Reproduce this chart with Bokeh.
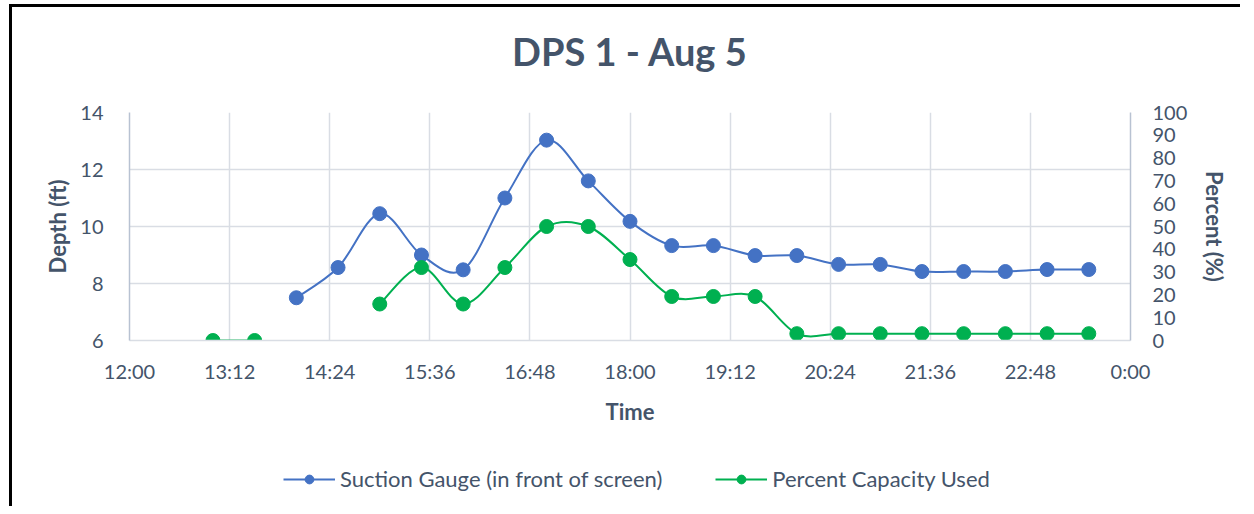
from bokeh.plotting import figure
from bokeh.layouts import column
from bokeh.models import (Range1d, LinearAxis, FixedTicker, Legend, LegendItem,
                          ColumnDataSource, Label)
from bokeh.embed import file_html
from bokeh.resources import INLINE

# ---------------- data ----------------
title_text = "DPS 1 - Aug 5"

blue_times = ["14:00", "14:30", "15:00", "15:30", "16:00", "16:30", "17:00", "17:30",
              "18:00", "18:30", "19:00", "19:30", "20:00", "20:30", "21:00", "21:30",
              "22:00", "22:30", "23:00", "23:30"]
blue_depth = [7.5, 8.56, 10.45, 9.0, 8.48, 11.0, 13.03, 11.6,
              10.18, 9.33, 9.33, 8.98, 8.98, 8.67, 8.67, 8.42,
              8.42, 8.42, 8.49, 8.49]

green_times = ["13:00", "13:30", "15:00", "15:30", "16:00", "16:30", "17:00", "17:30",
               "18:00", "18:30", "19:00", "19:30", "20:00", "20:30", "21:00", "21:30",
               "22:00", "22:30", "23:00", "23:30"]
green_pct = [0, 0, 16, 32, 16, 32, 50, 50,
             35.5, 19.3, 19.3, 19.3, 3, 3, 3, 3,
             3, 3, 3, 3]

x_tick_labels = ["12:00", "13:12", "14:24", "15:36", "16:48", "18:00",
                 "19:12", "20:24", "21:36", "22:48", "0:00"]
depth_ticks = [6, 8, 10, 12, 14]
pct_ticks = [0, 10, 20, 30, 40, 50, 60, 70, 80, 90, 100]

blue_name = "Suction Gauge (in front of screen)"
green_name = "Percent Capacity Used"

# ---------------- helpers ----------------
def to_hours(s):
    h, m = s.split(":")
    return int(h) + int(m) / 60.0

tick_pos = []
for lab in x_tick_labels:
    v = to_hours(lab)
    if tick_pos and v < tick_pos[-1]:
        v += 24
    tick_pos.append(v)

bx = [to_hours(t) for t in blue_times]
gx = [to_hours(t) for t in green_times]


def segments(xs, ys, max_gap=0.5 + 1e-6):
    segs, cur = [], [(xs[0], ys[0])]
    for i in range(1, len(xs)):
        if xs[i] - xs[i - 1] > max_gap:
            segs.append(cur)
            cur = []
        cur.append((xs[i], ys[i]))
    segs.append(cur)
    return segs


def bezier_source(xs, ys):
    d = dict(x0=[], y0=[], x1=[], y1=[], cx0=[], cy0=[], cx1=[], cy1=[])
    for seg in segments(xs, ys):
        n = len(seg)
        for i in range(n - 1):
            p0 = seg[i - 1] if i > 0 else seg[i]
            p1 = seg[i]
            p2 = seg[i + 1]
            p3 = seg[i + 2] if i + 2 < n else seg[i + 1]
            d["x0"].append(p1[0]); d["y0"].append(p1[1])
            d["x1"].append(p2[0]); d["y1"].append(p2[1])
            d["cx0"].append(p1[0] + (p2[0] - p0[0]) / 6.0)
            d["cy0"].append(p1[1] + (p2[1] - p0[1]) / 6.0)
            d["cx1"].append(p2[0] - (p3[0] - p1[0]) / 6.0)
            d["cy1"].append(p2[1] - (p3[1] - p1[1]) / 6.0)
    return ColumnDataSource(d)

# ---------------- styling ----------------
FONT = "Lato"
TXT = "#44546A"
GRID = "#D9DDE4"
AXL = "#B8C2D2"
BLUE = "#4472C4"
GREEN = "#00B050"


def strip(h, top, bottom):
    f = figure(frame_width=1001, frame_height=h, output_backend="svg",
               toolbar_location=None, x_range=Range1d(0, 1), y_range=Range1d(0, 1),
               x_axis_type=None, y_axis_type=None,
               min_border_left=117, min_border_right=110, min_border_top=top,
               min_border_bottom=bottom, outline_line_color=None,
               background_fill_color="white", border_fill_color="white")
    f.xgrid.visible = False
    f.ygrid.visible = False
    return f

# ---------------- title strip ----------------
tq = strip(93, 0, 0)
tq.add_layout(Label(x=0.5, y=0.53, text=title_text, text_align="center",
                    text_baseline="middle", text_font=FONT, text_font_size="38px",
                    text_font_style="bold", text_color=TXT))

# ---------------- main chart ----------------
p = figure(frame_width=1001, frame_height=228, output_backend="svg", toolbar_location=None,
           x_range=Range1d(tick_pos[0], tick_pos[-1]),
           y_range=Range1d(depth_ticks[0], depth_ticks[-1]),
           min_border_left=117, min_border_right=110, min_border_top=12,
           min_border_bottom=100, outline_line_color=None,
           background_fill_color="white", border_fill_color="white")

p.extra_y_ranges = {"pct": Range1d(pct_ticks[0], pct_ticks[-1])}

# x axis
xa = p.xaxis[0]
xa.ticker = FixedTicker(ticks=tick_pos)
xa.major_label_overrides = {tp: lab for tp, lab in zip(tick_pos, x_tick_labels)}
xa.axis_label = "Time"

# left axis
ya = p.yaxis[0]
ya.ticker = FixedTicker(ticks=depth_ticks)
ya.axis_label = "Depth (ft)"

# right axis
ra = LinearAxis(y_range_name="pct", ticker=FixedTicker(ticks=pct_ticks),
                axis_label="Percent (%)")
p.add_layout(ra, "right")

for ax in [xa, ya, ra]:
    ax.major_tick_line_color = None
    ax.minor_tick_line_color = None
    ax.axis_line_color = AXL
    ax.axis_line_width = 1.5
    ax.major_label_text_font = FONT
    ax.major_label_text_font_size = "20px"
    ax.major_label_text_color = TXT
    ax.axis_label_text_font = FONT
    ax.axis_label_text_font_size = "22px"
    ax.axis_label_text_font_style = "bold"
    ax.axis_label_text_color = TXT

xa.major_label_standoff = 12
xa.axis_label_standoff = 12
ya.major_label_standoff = 20
ya.axis_label_standoff = 6
ra.major_label_standoff = 16
ra.axis_label_standoff = 11
xa.axis_line_color = GRID
xa.axis_line_width = 1.5

p.xgrid.ticker = FixedTicker(ticks=tick_pos)
p.ygrid.ticker = FixedTicker(ticks=depth_ticks)
p.xgrid.grid_line_color = GRID
p.ygrid.grid_line_color = GRID
p.xgrid.grid_line_width = 1.5
p.ygrid.grid_line_width = 1.5

# ---------------- series ----------------
p.bezier(x0="x0", y0="y0", x1="x1", y1="y1", cx0="cx0", cy0="cy0", cx1="cx1", cy1="cy1",
         source=bezier_source(bx, blue_depth), line_color=BLUE, line_width=2)
p.bezier(x0="x0", y0="y0", x1="x1", y1="y1", cx0="cx0", cy0="cy0", cx1="cx1", cy1="cy1",
         source=bezier_source(gx, green_pct), line_color=GREEN, line_width=2,
         y_range_name="pct")

p.scatter(bx, blue_depth, size=14, fill_color=BLUE, line_color=BLUE)
p.scatter(gx, green_pct, size=14, fill_color=GREEN, line_color=GREEN,
          y_range_name="pct")

# ---------------- legend strip ----------------
q = strip(40, 18, 8)

# proxy renderers (kept outside the visible range) that only supply legend glyphs
off_x = [-10, -9]
off_y = [-10, -10]
lb = q.line(off_x, off_y, line_color=BLUE, line_width=2)
sb = q.scatter(off_x, off_y, size=15, fill_color=BLUE, line_color=BLUE)
lg = q.line(off_x, off_y, line_color=GREEN, line_width=2)
sg = q.scatter(off_x, off_y, size=15, fill_color=GREEN, line_color=GREEN)

legend = Legend(items=[LegendItem(label=blue_name, renderers=[lb, sb]),
                       LegendItem(label=green_name, renderers=[lg, sg])],
                orientation="horizontal", location=(154, 6),
                label_text_font=FONT, label_text_font_size="22px",
                label_text_color=TXT, glyph_width=52, glyph_height=22,
                label_standoff=5, spacing=53, border_line_color=None,
                background_fill_alpha=0, margin=0, padding=0)
q.add_layout(legend, "center")

layout = column(tq, p, q, spacing=0,
                styles={"border-left": "3px solid black", "border-top": "3px solid black",
                        "margin-left": "9px", "margin-top": "4px"})

open("out.html", "w").write(file_html(layout, INLINE))
